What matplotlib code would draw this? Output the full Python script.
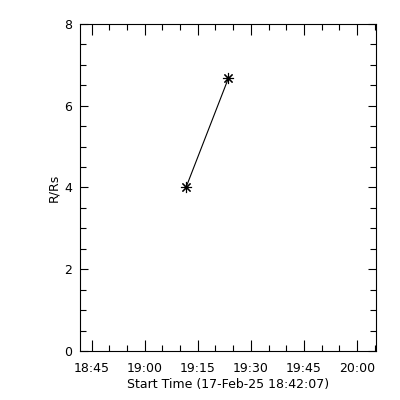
import pandas as pd
import matplotlib
matplotlib.use("Agg")
import matplotlib.pyplot as plt
import matplotlib.dates as mdates
from matplotlib.ticker import MultipleLocator

# data
times = ["2025-02-17 19:11:40", "2025-02-17 19:23:40"]
heights = [4.0, 6.67]
x_start = "2025-02-17 18:41:47"
x_end = "2025-02-17 20:05:17"
x_label = "Start Time (17-Feb-25 18:42:07)"
y_label = "R/Rs"

t = pd.to_datetime(times)

fig = plt.figure(figsize=(4, 4), dpi=100)
ax = fig.add_axes([0.2008, 0.1218, 0.7382, 0.819])

ax.plot(t, heights, color="black", linewidth=0.8,
        marker=(8, 2, 0), markersize=8, markeredgewidth=0.8)

ax.set_xlim(pd.Timestamp(x_start), pd.Timestamp(x_end))
ax.set_ylim(0, 8)

ax.xaxis.set_major_locator(mdates.MinuteLocator(byminute=[0, 15, 30, 45]))
ax.xaxis.set_minor_locator(mdates.MinuteLocator(byminute=range(0, 60, 5)))
ax.xaxis.set_major_formatter(mdates.DateFormatter("%H:%M"))
ax.yaxis.set_major_locator(MultipleLocator(2))
ax.yaxis.set_minor_locator(MultipleLocator(0.5))

ax.tick_params(which="both", direction="in", top=True, right=True,
               labelsize=9, width=0.8)
ax.tick_params(axis="x", which="major", length=8, pad=8)
ax.tick_params(axis="x", which="minor", length=4.5)
ax.tick_params(axis="y", which="major", length=6, pad=6)
ax.tick_params(axis="y", which="minor", length=4)
for s in ax.spines.values():
    s.set_linewidth(0.8)

ax.set_xlabel(x_label, fontsize=9, labelpad=2)
ax.set_ylabel(y_label, fontsize=9, labelpad=3)

fig.savefig("out.png", dpi=100)
